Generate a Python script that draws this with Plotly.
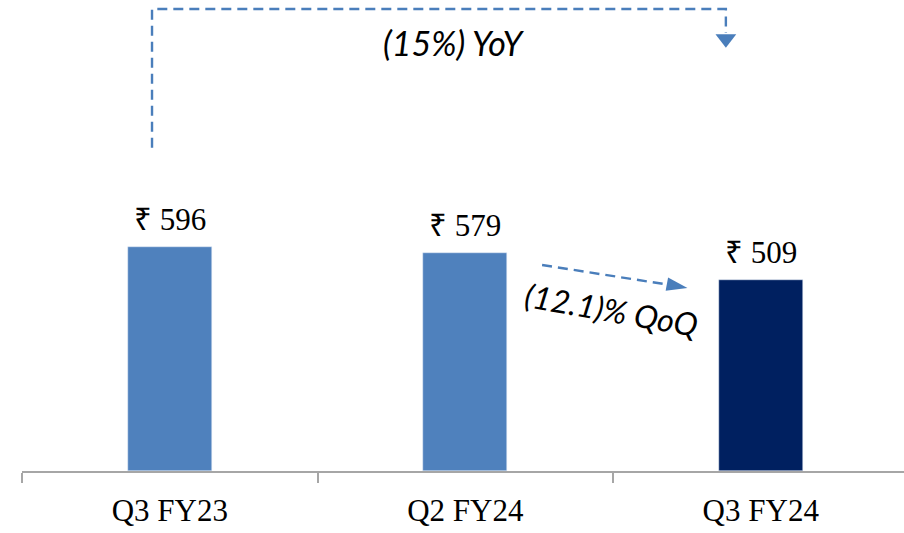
import plotly.graph_objects as go

categories = ["Q3 FY23", "Q2 FY24", "Q3 FY24"]
values = [596, 579, 509]
value_labels = ["₹ 596", "₹ 579", "₹ 509"]
bar_colors = ["#4f81bd", "#4f81bd", "#002060"]
yoy_label = "(15%) YoY"
qoq_label = "(12.1)% QoQ"

line_col = "#4a7ebb"
serif = "Liberation Serif, Cambria, serif"
italic_font = "Lato, Calibri, sans-serif"
x_range = [-0.5, 2.4848]

fig = go.Figure()
fig.add_trace(go.Bar(
    x=categories, y=values, marker_color=bar_colors, width=0.285,
    hoverinfo="skip", showlegend=False,
))

# value labels
for c, v, lab in zip(categories, values, value_labels):
    fig.add_annotation(x=c, y=v, text=lab, showarrow=False, yanchor="bottom",
                       yshift=8, font=dict(family=serif, size=31, color="black"))

# YoY bracket (dashed) on an overlaid linear axis
fig.add_trace(go.Scatter(
    x=[-0.06, -0.06, 1.882, 1.882], y=[860, 1229, 1229, 1165], xaxis="x2",
    mode="lines", line=dict(color=line_col, width=2.4, dash="10px,6px"),
    hoverinfo="skip", showlegend=False,
))
fig.add_trace(go.Scatter(
    x=[1.882], y=[1150], xaxis="x2", mode="markers",
    marker=dict(symbol="triangle-down", size=18, color=line_col),
    hoverinfo="skip", showlegend=False,
))
fig.add_annotation(x=0.96, y=1140, text=yoy_label, showarrow=False,
                   font=dict(family=italic_font, size=34, color="black", style="italic"))

# QoQ arrow (dashed)
fig.add_trace(go.Scatter(
    x=[1.26, 1.725], y=[548, 491], xaxis="x2",
    mode="lines", line=dict(color=line_col, width=2.4, dash="10px,6px"),
    hoverinfo="skip", showlegend=False,
))
fig.add_trace(go.Scatter(
    x=[1.72, 1.752], y=[491.6, 487], xaxis="x2", mode="markers",
    marker=dict(symbol="arrow", angleref="previous", size=22, color=line_col,
                opacity=[0, 1]),
    hoverinfo="skip", showlegend=False,
))
fig.add_annotation(x=1.495, y=430, text=qoq_label, showarrow=False, textangle=10,
                   font=dict(family=italic_font, size=32, color="black", style="italic"))

fig.update_layout(
    width=904, height=533,
    margin=dict(l=22, r=0, t=0, b=62),
    paper_bgcolor="white", plot_bgcolor="white",
    bargap=0,
    xaxis=dict(
        type="category", range=x_range,
        showline=True, linecolor="#a6a6a6", linewidth=1.5,
        ticks="outside", tickson="boundaries", ticklen=10, tickcolor="#a6a6a6", tickwidth=1.5,
        ticklabelstandoff=11,
        showgrid=False, zeroline=False,
        tickfont=dict(family=serif, size=31, color="black"),
    ),
    xaxis2=dict(overlaying="x", range=x_range, visible=False, showgrid=False, zeroline=False),
    yaxis=dict(range=[0, 1253], visible=False, showgrid=False, zeroline=False),
)

fig.write_html("out.html")
